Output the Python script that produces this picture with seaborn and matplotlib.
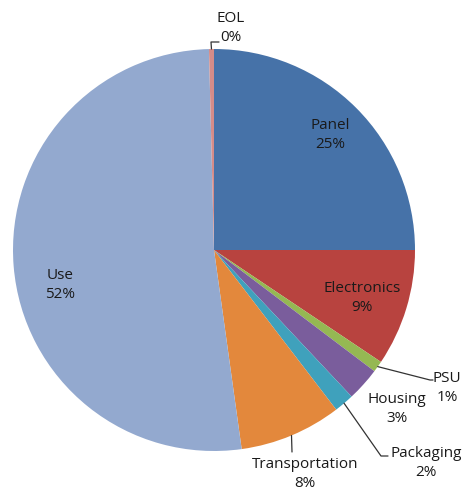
import numpy as np
import matplotlib
matplotlib.use("Agg")
import matplotlib.pyplot as plt
import seaborn as sns

# data (percent of total)
stages = ["Panel", "Electronics", "PSU", "Housing", "Packaging", "Transportation", "Use", "EOL"]
shares = [25.0, 9.4, 0.9, 2.7, 1.6, 8.2, 51.8, 0.4]
colors = ["#4672A8", "#B8433F", "#95B853", "#7A5D9C", "#3FA1BC", "#E3883C", "#93A9CF", "#D58C89"]

sns.set_theme(style="white")
plt.rcParams["font.family"] = ["Open Sans", "DejaVu Sans"]

W, H, DPI = 468, 491, 100
CX, CY, R = 214, 250, 201  # pie centre / radius in pixels


def px(x, y):
    """pixel position (from top-left) -> data coords"""
    return (x - CX) / R, (CY - y) / R


fig = plt.figure(figsize=(W / DPI, H / DPI), dpi=DPI)
ax = fig.add_axes([0, 0, 1, 1])

wedges, _ = ax.pie(shares, colors=sns.color_palette(colors), startangle=90,
                   counterclock=False, radius=1,
                   wedgeprops=dict(linewidth=0))

# pie() resets the limits, so set them afterwards
ax.set_xlim(-CX / R, (W - CX) / R)
ax.set_ylim(-(H - CY) / R, CY / R)
ax.set_aspect("equal", adjustable="datalim")
ax.axis("off")

# label text centres (pixels)
label_pos = {
    "Panel": (330, 135), "Electronics": (362, 298), "PSU": (447, 388),
    "Housing": (397, 409), "Packaging": (426, 463), "Transportation": (305, 474),
    "Use": (60, 285), "EOL": (231, 28),
}
for name, val in zip(stages, shares):
    x, y = px(*label_pos[name])
    ax.text(x, y, f"{name}\n{val:.0f}%", ha="center", va="center",
            fontsize=11, color="#1a1a1a", linespacing=1.4)

# leader lines (wedge edge midpoint -> label)
def edge_point(i):
    w = wedges[i]
    a = np.deg2rad((w.theta1 + w.theta2) / 2)
    return np.cos(a), np.sin(a)

leaders = {
    "PSU": [(430, 380), (433, 380)],
    "Packaging": [(381, 456), (388, 456)],
    "Transportation": [(292, 452)],
    "EOL": [(211, 42), (219, 42)],
}
for name, pts in leaders.items():
    x0, y0 = edge_point(stages.index(name))
    xs = [x0] + [px(*p)[0] for p in pts]
    ys = [y0] + [px(*p)[1] for p in pts]
    ax.plot(xs, ys, color="#333333", lw=0.9)

fig.savefig("out.png", dpi=DPI, facecolor="white")
